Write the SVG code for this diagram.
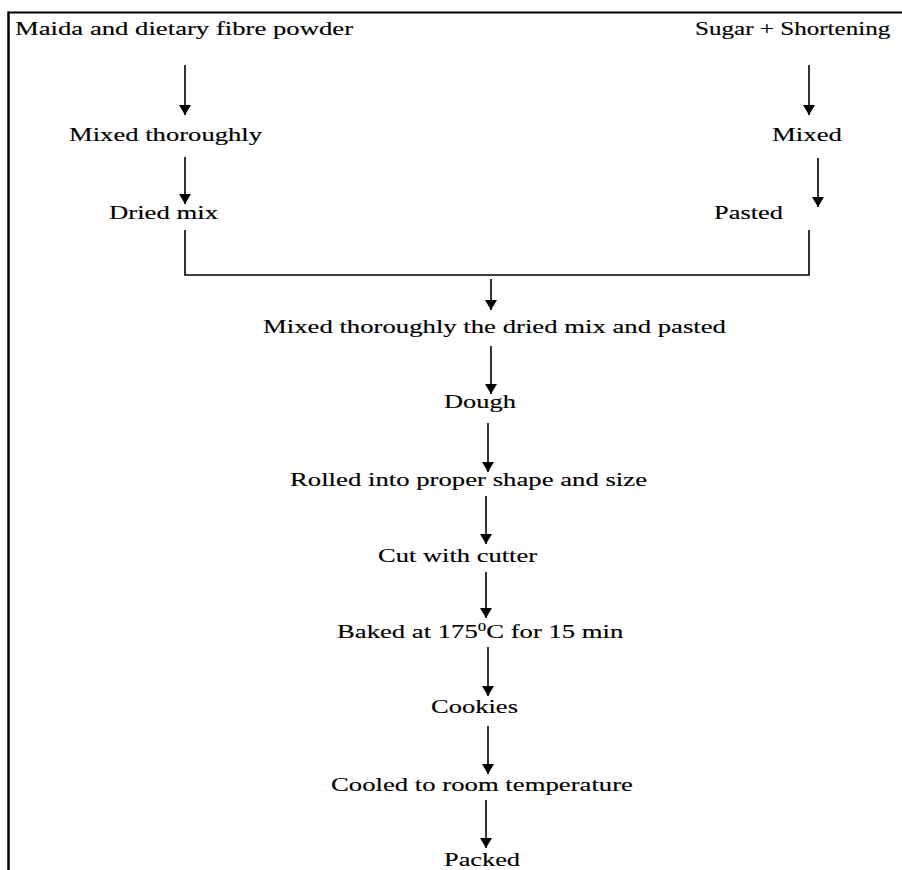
<svg xmlns="http://www.w3.org/2000/svg" width="902" height="870" viewBox="0 0 902 870">
<style>
text{font-family:"Liberation Serif","Times New Roman",serif;font-size:19px;fill:#000;stroke:#000;stroke-width:0.15}
.c{stroke:#000;stroke-width:1.6;fill:none}
.a{stroke:#000;stroke-width:1.6;fill:none;marker-end:url(#ah)}
.b{stroke:#000;fill:none}
</style>
<defs>
<marker id="ah" viewBox="0 0 10 12" refX="10" refY="6" markerWidth="10" markerHeight="12" markerUnits="userSpaceOnUse" orient="auto">
<path d="M0,0 L10,6 L0,12 z" fill="#000"/>
</marker>
</defs>
<rect width="902" height="870" fill="#fff"/>
<g id="frame">
<line class="b" x1="8.5" y1="11.5" x2="8.5" y2="870" stroke-width="2.5"/>
<line class="b" x1="8" y1="12.5" x2="902" y2="12.5" stroke-width="2"/>
</g>
<g id="connectors">
<line class="a" x1="185" y1="65" x2="185" y2="115"/>
<line class="a" x1="185" y1="157" x2="185" y2="204"/>
<line class="a" x1="809" y1="65" x2="809" y2="115"/>
<line class="a" x1="818" y1="158" x2="818" y2="207"/>
<polyline class="c" points="185,230 185,275 809,275 809,230"/>
<line class="a" x1="491" y1="279" x2="491" y2="310"/>
<line class="a" x1="491" y1="346" x2="491" y2="394"/>
<line class="a" x1="488" y1="423" x2="488" y2="472"/>
<line class="a" x1="486" y1="496" x2="486" y2="544"/>
<line class="a" x1="486" y1="572" x2="486" y2="618"/>
<line class="a" x1="488" y1="647" x2="488" y2="696"/>
<line class="a" x1="488" y1="726" x2="488" y2="774"/>
<line class="a" x1="486" y1="800" x2="486" y2="848"/>
</g>
<g id="n1" transform="translate(15,35) scale(1.405,1)"><text textLength="240.6" lengthAdjust="spacingAndGlyphs">Maida and dietary fibre powder</text></g>
<g id="n2" transform="translate(695,35) scale(1.405,1)"><text textLength="139" lengthAdjust="spacingAndGlyphs">Sugar + Shortening</text></g>
<g id="n3" transform="translate(69,141) scale(1.405,1)"><text textLength="137.4" lengthAdjust="spacingAndGlyphs">Mixed thoroughly</text></g>
<g id="n4" transform="translate(772,141) scale(1.405,1)"><text textLength="49.8" lengthAdjust="spacingAndGlyphs">Mixed</text></g>
<g id="n5" transform="translate(109,219) scale(1.405,1)"><text textLength="77.6" lengthAdjust="spacingAndGlyphs">Dried mix</text></g>
<g id="n6" transform="translate(714,219) scale(1.405,1)"><text textLength="49.1" lengthAdjust="spacingAndGlyphs">Pasted</text></g>
<g id="n7" transform="translate(263,333) scale(1.405,1)"><text textLength="329.5" lengthAdjust="spacingAndGlyphs">Mixed thoroughly the dried mix and pasted</text></g>
<g id="n8" transform="translate(444,408) scale(1.405,1)"><text textLength="51.2" lengthAdjust="spacingAndGlyphs">Dough</text></g>
<g id="n9" transform="translate(290,486) scale(1.405,1)"><text textLength="254.1" lengthAdjust="spacingAndGlyphs">Rolled into proper shape and size</text></g>
<g id="n10" transform="translate(378,562) scale(1.405,1)"><text textLength="113.2" lengthAdjust="spacingAndGlyphs">Cut with cutter</text></g>
<g id="n11" transform="translate(337,638) scale(1.405,1)"><text>Baked at 175<tspan font-size="12" dy="-7">0</tspan><tspan dy="7">C for 15 min</tspan></text></g>
<g id="n12" transform="translate(431,713) scale(1.405,1)"><text textLength="61.9" lengthAdjust="spacingAndGlyphs">Cookies</text></g>
<g id="n13" transform="translate(331,791) scale(1.405,1)"><text textLength="214.9" lengthAdjust="spacingAndGlyphs">Cooled to room temperature</text></g>
<g id="n14" transform="translate(444,866) scale(1.405,1)"><text textLength="54.1" lengthAdjust="spacingAndGlyphs">Packed</text></g>
</svg>
